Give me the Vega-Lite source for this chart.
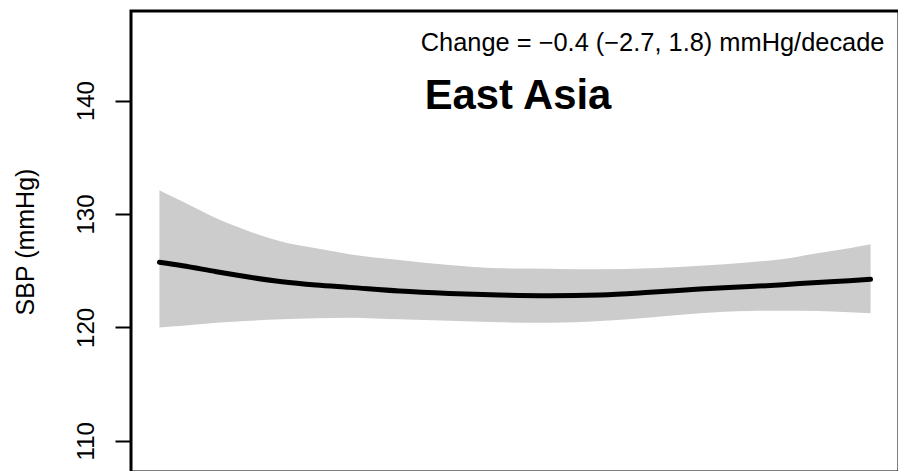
{
  "$schema": "https://vega.github.io/schema/vega-lite/v6.json",
  "autosize": {"type": "none"},
  "padding": {"left": 131, "top": 11, "right": 0, "bottom": 0},
  "width": 768,
  "height": 461,
  "background": "white",
  "config": {
    "view": {"stroke": "black", "strokeWidth": 3},
    "font": "Liberation Sans"
  },
  "datasets": {
    "curve": [
      {"year": 1975.0, "lo": 120.0, "mid": 125.74, "hi": 132.1},
      {"year": 1976.3, "lo": 120.15, "mid": 125.44, "hi": 131.1},
      {"year": 1978.2, "lo": 120.41, "mid": 124.91, "hi": 129.62},
      {"year": 1980.1, "lo": 120.59, "mid": 124.42, "hi": 128.44},
      {"year": 1981.9, "lo": 120.71, "mid": 124.03, "hi": 127.56},
      {"year": 1983.8, "lo": 120.8, "mid": 123.74, "hi": 126.98},
      {"year": 1985.7, "lo": 120.86, "mid": 123.53, "hi": 126.46},
      {"year": 1988.5, "lo": 120.71, "mid": 123.21, "hi": 125.94},
      {"year": 1991.3, "lo": 120.59, "mid": 123.0, "hi": 125.5},
      {"year": 1994.1, "lo": 120.45, "mid": 122.86, "hi": 125.21},
      {"year": 1996.9, "lo": 120.41, "mid": 122.8, "hi": 125.18},
      {"year": 1999.8, "lo": 120.56, "mid": 122.86, "hi": 125.12},
      {"year": 2002.6, "lo": 120.88, "mid": 123.09, "hi": 125.21},
      {"year": 2005.4, "lo": 121.24, "mid": 123.38, "hi": 125.44},
      {"year": 2008.2, "lo": 121.45, "mid": 123.6, "hi": 125.75},
      {"year": 2010.1, "lo": 121.47, "mid": 123.76, "hi": 126.03},
      {"year": 2012.0, "lo": 121.44, "mid": 123.97, "hi": 126.54},
      {"year": 2013.8, "lo": 121.33, "mid": 124.12, "hi": 126.98},
      {"year": 2015.0, "lo": 121.24, "mid": 124.24, "hi": 127.33}
    ],
    "labels": [
      {"year": 1989.7, "value": 144.4, "label": "Change = −0.4 (−2.7, 1.8) mmHg/decade", "kind": "change"},
      {"year": 1989.92, "value": 139.25, "label": "East Asia", "kind": "region"}
    ]
  },
  "layer": [
    {
      "data": {"name": "curve"},
      "mark": {"type": "area", "color": "#cccccc", "interpolate": "monotone"},
      "encoding": {
        "x": {"field": "year", "type": "quantitative", "scale": {"domain": [1973.4, 2016.6], "nice": false, "zero": false}, "axis": null},
        "y": {"field": "lo", "type": "quantitative", "scale": {"domain": [107.25, 147.9], "nice": false, "zero": false},
          "axis": {
            "values": [110, 120, 130, 140],
            "domain": false,
            "grid": false,
            "ticks": true,
            "tickColor": "black",
            "tickWidth": 2,
            "tickSize": 16,
            "labelAngle": -90,
            "labelAlign": "center",
            "labelBaseline": "alphabetic",
            "labelPadding": 22,
            "labelFontSize": 24,
            "labelColor": "black",
            "labelFont": "Liberation Sans",
            "title": "SBP (mmHg)",
            "titleFont": "Liberation Sans",
            "titleFontSize": 25,
            "titleFontWeight": "normal",
            "titleColor": "black",
            "titleAngle": 270,
            "titleAlign": "center",
            "titleBaseline": "alphabetic",
            "titleX": -98,
            "titleY": 230.5
          }
        },
        "y2": {"field": "hi"}
      }
    },
    {
      "data": {"name": "curve"},
      "mark": {"type": "line", "color": "black", "strokeWidth": 5, "strokeCap": "round", "interpolate": "monotone"},
      "encoding": {
        "x": {"field": "year", "type": "quantitative"},
        "y": {"field": "mid", "type": "quantitative"}
      }
    },
    {
      "data": {"name": "labels"},
      "transform": [{"filter": "datum.kind == 'change'"}],
      "mark": {"type": "text", "align": "left", "baseline": "alphabetic", "fontSize": 25.4, "font": "Liberation Sans", "color": "black"},
      "encoding": {
        "x": {"field": "year", "type": "quantitative"},
        "y": {"field": "value", "type": "quantitative"},
        "text": {"field": "label"}
      }
    },
    {
      "data": {"name": "labels"},
      "transform": [{"filter": "datum.kind == 'region'"}],
      "mark": {"type": "text", "align": "left", "baseline": "alphabetic", "fontSize": 41.8, "fontWeight": "bold", "font": "Liberation Sans", "color": "black"},
      "encoding": {
        "x": {"field": "year", "type": "quantitative"},
        "y": {"field": "value", "type": "quantitative"},
        "text": {"field": "label"}
      }
    }
  ]
}
